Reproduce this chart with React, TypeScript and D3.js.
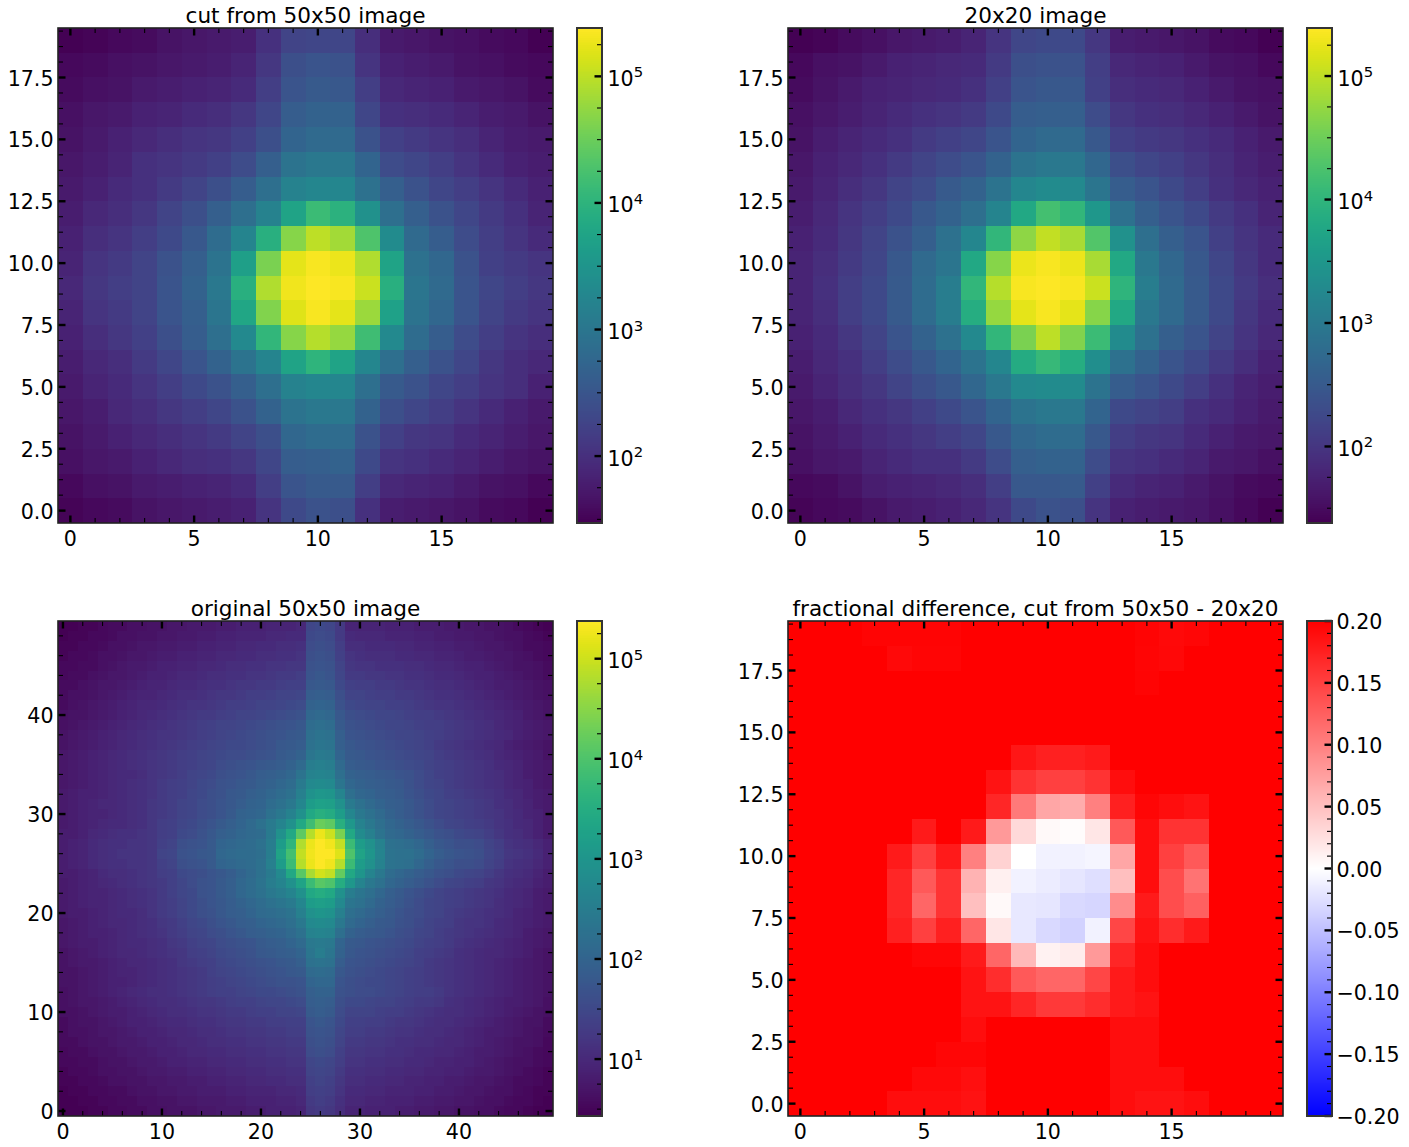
import React from "react";
import * as d3 from "d3";

const W = 1409, H = 1147;
const FONT = "'DejaVu Sans', sans-serif";

// Cell readings, top image row first. Log panels: percent along the colour bar (log scale).
const CUT_ROWS = [
[0,1,2,3,5,6,7,8,14,20,21,21,13,7,6,5,4,3,2,0],
[2,3,4,5,6,7,8,10,16,24,26,25,15,9,8,7,5,4,3,2],
[3,4,5,7,8,9,10,12,18,26,28,27,18,11,10,9,7,6,5,3],
[4,6,7,9,10,12,13,16,21,29,31,31,21,14,13,12,10,8,7,5],
[5,7,9,11,13,15,16,19,24,32,34,34,25,19,17,15,13,10,8,7],
[6,8,10,14,15,17,19,23,30,38,40,40,32,23,21,18,15,12,9,8],
[7,9,12,14,17,20,24,29,36,44,46,46,37,30,25,21,18,15,12,9],
[8,11,13,16,20,24,30,36,44,58,68,64,50,36,30,25,21,17,14,10],
[9,13,15,18,22,27,35,45,63,82,90,86,72,48,34,29,23,18,15,12],
[10,15,17,20,25,30,38,56,80,96,99,97,88,58,37,33,25,19,17,15],
[11,16,18,20,26,31,40,63,88,98,100,99,92,63,39,34,26,21,18,16],
[10,15,17,20,26,30,39,59,81,95,99,96,85,57,38,33,26,20,17,15],
[9,13,16,19,24,29,36,47,66,82,89,84,69,47,35,29,23,18,15,13],
[8,11,13,17,21,26,31,38,45,58,65,58,46,36,30,25,21,16,13,11],
[7,10,12,15,18,22,25,30,36,44,46,46,36,28,25,21,18,15,13,9],
[6,8,11,13,16,18,21,25,31,38,40,40,31,24,21,18,15,12,9,7],
[5,7,9,11,13,15,17,20,24,33,35,35,25,19,16,15,12,10,8,6],
[4,6,7,9,11,13,14,16,21,29,30,31,22,15,14,12,10,8,6,5],
[2,4,5,7,8,9,10,12,18,26,28,28,18,11,10,9,7,5,4,2],
[1,2,3,5,6,7,8,9,15,22,25,24,14,8,7,6,5,3,2,0],
];

const SMALL_ROWS = [
[0,1,3,4,6,7,8,10,15,21,22,22,16,8,7,6,5,3,2,0],
[2,4,5,7,9,10,11,12,17,24,25,25,18,11,10,9,7,5,4,2],
[3,5,7,9,10,11,12,14,19,26,27,27,19,13,12,11,9,7,5,4],
[4,6,8,10,12,14,15,17,22,29,30,30,23,16,14,13,11,9,7,5],
[5,8,10,12,14,17,19,21,26,32,34,34,27,19,17,16,14,12,9,7],
[6,9,11,14,17,20,23,26,31,38,40,40,33,24,21,19,16,13,10,8],
[7,10,13,16,20,23,28,31,38,46,48,47,39,29,26,22,18,14,11,9],
[8,11,15,18,22,27,31,36,45,60,70,66,53,37,30,26,22,17,14,10],
[9,12,16,20,25,30,37,46,66,83,91,87,73,50,36,30,26,19,15,12],
[10,13,17,21,27,34,39,60,82,97,99,97,87,60,40,33,27,21,16,12],
[10,14,18,22,28,35,42,66,89,99,100,99,92,65,42,34,28,22,17,13],
[10,13,18,22,28,35,42,62,84,96,99,96,82,60,40,34,28,22,16,12],
[9,12,16,20,26,31,37,47,66,80,90,81,68,48,37,30,26,20,15,11],
[8,11,14,18,23,27,32,38,46,61,67,62,49,37,31,26,22,17,13,9],
[7,10,13,16,20,24,27,33,40,47,48,48,38,29,26,22,18,14,10,8],
[6,8,11,14,16,19,22,26,32,38,40,40,32,22,20,18,14,12,9,7],
[5,7,9,12,14,16,18,21,27,33,35,35,27,18,16,15,12,9,7,6],
[4,6,7,10,12,14,14,17,23,30,31,31,23,15,14,12,10,7,6,4],
[2,3,5,8,9,10,11,13,18,27,27,28,19,12,10,9,7,5,3,2],
[1,2,3,5,7,8,9,11,15,22,25,24,15,9,8,7,6,4,2,0],
];

const ORIGINAL_ROWS = [
[0,0,1,1,2,3,3,4,4,5,5,6,6,7,7,7,8,8,9,9,9,10,10,10,11,21,22,21,17,10,10,10,10,9,9,9,8,8,8,7,7,6,6,5,5,4,3,2,1,0],
[0,1,1,2,2,3,4,4,5,5,6,6,7,7,8,8,9,9,10,10,10,11,11,12,12,22,23,22,17,12,11,11,11,10,10,10,9,9,8,8,7,7,6,6,5,4,4,3,2,1],
[1,1,2,2,3,4,4,5,6,6,7,7,8,8,9,9,10,10,11,11,12,12,13,13,14,23,24,23,18,13,13,12,12,12,11,11,10,10,9,9,8,8,7,6,6,5,4,3,3,2],
[1,2,2,3,4,4,5,6,6,7,8,8,9,9,10,10,11,11,12,12,13,13,14,14,15,24,25,24,19,15,14,13,13,13,12,12,11,11,10,10,9,8,8,7,6,6,5,4,3,2],
[2,2,3,3,4,5,6,7,7,8,9,9,10,10,11,11,12,13,13,14,14,15,15,16,16,25,26,25,20,16,15,15,14,14,14,13,13,12,11,11,10,9,9,8,7,6,5,5,4,3],
[2,3,3,4,5,6,6,7,8,9,9,10,11,11,12,13,13,14,14,15,15,16,17,17,18,26,27,26,21,17,17,16,16,15,15,14,14,13,12,12,11,10,9,9,8,7,6,5,4,3],
[3,3,4,5,6,6,7,8,9,10,10,11,12,12,13,14,14,15,16,16,17,17,18,19,19,27,28,27,22,19,18,18,17,17,16,15,15,14,13,13,12,11,10,9,8,8,7,6,5,4],
[3,4,4,5,6,7,8,9,10,10,11,12,13,13,14,15,16,16,17,18,18,19,20,20,21,29,30,29,24,20,20,19,18,18,17,17,16,15,14,14,13,12,11,10,9,8,7,6,5,4],
[3,4,5,6,7,8,9,10,11,11,12,13,14,15,15,16,17,18,18,19,20,20,21,22,23,31,32,31,25,22,21,20,20,19,19,18,17,16,15,15,14,13,12,11,10,9,8,7,6,5],
[4,5,5,6,7,8,9,10,11,12,13,14,15,16,17,17,18,19,20,20,21,22,23,24,25,33,34,33,27,24,23,22,21,21,20,19,18,18,17,16,15,14,13,12,11,10,9,7,6,5],
[4,5,6,7,8,9,10,11,12,13,14,15,16,17,18,19,20,20,21,22,23,24,25,26,27,35,36,35,28,25,24,23,22,21,21,20,19,18,18,17,16,15,14,13,11,10,9,8,7,6],
[5,6,7,8,9,10,11,12,13,14,15,15,16,17,18,19,20,21,22,23,24,25,26,27,28,36,38,37,30,26,25,24,23,22,21,21,20,19,18,17,16,15,14,13,12,11,9,8,7,6],
[5,6,7,8,9,10,11,12,13,14,15,16,17,18,19,20,21,22,22,23,24,25,27,28,29,37,39,38,30,27,26,25,24,23,22,21,20,19,17,16,15,14,13,12,11,9,8,7,6,5],
[6,7,8,9,10,11,12,13,14,15,16,17,18,19,20,21,22,23,23,24,25,26,28,29,31,39,41,40,32,28,27,26,25,24,23,22,21,20,18,17,16,15,14,13,11,10,9,8,7,5],
[6,7,8,9,10,11,12,13,14,15,16,17,18,19,20,21,23,24,25,26,27,28,29,31,34,42,43,42,34,29,28,27,26,25,24,23,22,20,19,18,17,16,15,14,12,11,10,8,7,6],
[6,7,8,9,10,11,12,12,13,15,16,17,18,20,21,22,24,25,26,27,29,30,31,33,38,44,45,44,36,31,30,29,28,27,26,25,23,21,19,18,17,16,15,14,13,11,10,8,7,6],
[6,7,8,9,10,11,12,13,14,15,17,18,19,20,22,23,25,26,27,28,30,31,33,35,41,47,48,47,39,33,31,30,29,28,27,25,23,21,20,18,17,16,15,14,13,11,10,9,7,6],
[7,8,9,9,10,11,12,13,14,15,17,18,19,21,22,24,25,27,28,30,31,33,35,37,43,51,53,52,45,36,33,32,30,29,28,26,24,22,21,19,18,17,16,15,14,12,11,9,8,7],
[7,8,9,10,11,11,12,13,14,16,17,18,20,21,23,24,26,27,29,31,32,35,37,40,46,55,57,56,50,41,37,34,32,30,29,27,25,23,21,20,19,18,17,16,14,13,11,10,8,7],
[7,8,9,10,10,11,12,13,14,16,17,18,20,21,23,24,26,28,31,32,33,37,40,44,50,60,63,61,55,46,40,37,34,31,29,27,25,23,21,20,19,18,17,16,15,13,12,10,9,7],
[7,8,9,10,11,12,12,13,14,16,18,19,21,22,24,26,28,30,32,34,37,41,45,50,60,69,77,75,63,53,44,40,36,33,31,29,27,25,23,21,20,19,18,17,15,14,12,11,9,7],
[8,8,9,11,12,13,14,14,15,16,18,19,22,23,25,27,30,31,33,34,35,41,50,60,75,89,97,92,80,60,48,43,38,34,33,31,29,27,25,24,22,21,20,18,16,14,13,11,9,7],
[8,9,10,12,13,14,14,15,15,16,19,20,24,25,26,28,32,33,34,35,37,42,55,65,88,97,100,98,91,68,55,50,44,37,36,35,33,30,27,26,24,24,23,20,18,15,14,13,11,9],
[8,9,10,12,13,14,15,15,15,16,20,21,25,26,27,28,33,34,35,35,36,42,58,70,91,98,100,100,95,72,58,52,45,38,37,37,35,32,29,27,26,25,24,21,19,16,15,14,12,9],
[8,9,10,12,13,14,14,15,15,16,19,20,24,25,26,28,32,33,34,35,37,43,55,68,89,97,100,98,89,68,55,50,44,38,37,36,33,30,27,26,24,24,23,20,18,15,14,13,11,9],
[8,8,9,10,12,13,13,14,15,16,18,19,22,23,24,26,27,29,32,34,37,41,47,60,74,87,93,91,76,60,52,45,40,35,33,31,29,27,25,24,22,21,20,18,16,14,13,12,10,8],
[7,8,9,10,11,12,13,14,15,16,17,19,21,23,25,26,28,30,33,35,38,42,45,50,58,68,74,72,62,53,45,40,37,33,31,29,27,25,23,21,20,19,18,16,15,13,12,11,9,8],
[7,8,9,10,10,11,12,13,14,15,17,19,21,22,25,26,28,30,33,35,37,40,42,45,50,60,62,60,50,42,39,36,33,30,28,26,24,22,20,19,18,17,16,15,14,12,11,10,8,7],
[7,8,9,10,10,11,12,13,14,15,17,18,20,22,24,26,27,29,31,33,35,37,39,41,46,55,56,55,47,39,37,34,31,29,27,25,23,21,20,19,18,17,16,15,13,12,11,10,8,7],
[7,8,8,9,10,11,12,12,13,15,17,18,20,22,24,25,27,29,30,32,34,35,36,38,43,50,52,51,43,36,34,32,30,28,26,24,23,21,20,18,17,16,15,14,13,12,10,9,8,7],
[6,7,8,9,10,11,11,12,13,14,16,17,19,21,22,24,26,27,29,30,32,33,34,36,40,47,48,47,40,34,32,30,28,27,25,24,22,20,19,18,16,15,15,14,12,11,10,9,8,7],
[6,7,8,9,9,10,11,12,13,14,15,17,18,20,21,23,24,26,27,29,30,31,32,34,37,44,45,44,36,31,29,28,27,26,24,23,21,20,18,17,16,15,14,13,12,11,10,8,7,6],
[6,7,8,8,9,10,11,12,12,13,14,16,17,19,20,21,23,24,25,26,28,29,30,32,34,40,41,40,32,28,27,26,25,24,23,22,20,19,18,17,15,14,13,12,11,10,9,8,7,6],
[5,6,7,8,9,10,11,11,12,13,14,15,16,18,19,20,22,23,24,25,27,28,29,30,32,39,42,39,31,27,26,25,24,23,22,21,19,18,17,16,14,13,12,11,11,10,9,8,6,5],
[5,6,7,7,8,9,10,11,11,12,13,14,16,17,18,19,21,22,23,24,25,26,27,28,30,37,38,37,29,26,25,24,23,22,21,20,19,17,16,15,14,13,12,11,10,9,8,7,6,5],
[5,5,6,7,8,9,10,10,11,12,13,14,15,16,17,19,20,21,22,23,24,25,26,27,28,34,35,34,27,25,24,23,22,21,20,19,18,17,16,15,14,13,12,11,10,9,8,7,6,5],
[5,5,6,7,8,9,9,10,11,12,13,14,15,16,17,18,19,20,21,22,23,24,25,25,26,32,33,33,26,24,23,22,22,21,20,19,18,17,16,15,14,13,12,11,10,9,8,7,6,5],
[4,5,6,7,8,9,10,11,12,13,13,14,15,16,17,18,19,19,20,21,22,22,23,24,25,30,31,31,25,24,23,23,22,21,20,19,18,18,17,15,14,13,12,11,10,9,8,7,6,5],
[4,5,6,6,7,8,9,10,11,12,13,13,14,15,16,16,17,18,19,19,20,21,21,22,23,29,30,29,24,22,22,21,20,20,19,18,17,17,16,14,13,12,11,10,9,8,8,7,6,4],
[4,4,5,6,7,8,8,9,10,11,12,13,13,14,15,15,16,17,17,18,19,19,20,20,21,28,29,28,23,20,20,20,19,18,18,17,16,15,14,13,13,12,11,10,9,8,7,6,5,4],
[3,4,5,5,6,7,8,9,9,10,11,12,12,13,14,14,15,16,16,17,17,18,18,19,19,26,27,26,22,19,19,18,18,17,16,16,15,14,13,13,12,11,10,9,8,7,6,5,5,3],
[3,4,4,5,6,6,7,8,9,9,10,11,11,12,13,13,14,15,15,16,16,17,17,18,18,25,26,25,21,18,18,17,17,16,15,15,14,13,13,12,11,10,9,8,8,7,6,5,4,3],
[3,3,4,5,5,6,7,7,8,9,9,10,11,11,12,13,13,14,14,15,15,16,16,17,17,24,25,24,20,17,17,16,16,15,14,14,13,13,12,11,11,10,9,8,7,6,5,5,4,2],
[2,3,3,4,5,5,6,7,7,8,9,9,10,11,11,12,12,13,13,14,14,15,15,16,16,23,24,23,19,16,16,15,15,14,14,13,12,12,11,11,10,9,8,8,7,6,5,4,3,2],
[2,2,3,3,4,5,5,6,7,7,8,9,9,10,10,11,11,12,12,13,13,14,14,15,15,21,22,21,18,15,15,14,14,13,13,12,12,11,10,10,9,9,8,7,6,5,4,4,3,2],
[1,2,2,3,4,4,5,5,6,7,7,8,8,9,9,10,10,11,11,12,12,13,13,14,14,20,21,20,17,14,14,13,13,12,12,11,11,10,10,9,9,8,7,7,6,5,4,3,2,1],
[1,1,2,2,3,4,4,5,5,6,6,7,7,8,8,9,9,10,10,11,11,12,12,13,13,19,20,19,16,13,13,12,12,11,11,10,10,9,9,8,8,7,6,6,5,4,3,3,2,1],
[0,1,1,2,2,3,3,4,5,5,6,6,7,7,8,8,8,9,9,10,10,10,11,11,12,18,19,18,15,12,12,11,11,10,10,10,9,9,8,8,7,6,6,5,4,4,3,2,1,1],
[0,0,1,1,2,2,3,3,4,4,5,5,6,6,7,7,7,8,8,9,9,9,10,10,11,17,18,17,14,11,11,10,10,9,9,9,8,8,7,7,6,6,5,4,4,3,2,2,1,0],
[0,0,0,1,1,2,2,3,3,4,4,5,5,5,6,6,7,7,7,8,8,9,9,9,10,16,17,16,13,10,10,9,9,9,8,8,7,7,6,6,5,5,4,4,3,2,2,1,0,0],
];

// Fractional difference in percent; the colour range saturates at +/-20.
const DIFF_ROWS = [
[20,20,20,19.7,19.7,19.7,19.7,20,20,20,20,20,20,20,19.7,19.3,19.5,20,20,20],
[20,20,20,20,19.3,19.6,19.6,20,20,20,20,20,20,20,19.6,19.4,20,20,20,20],
[20,20,20,20,20,20,20,20,20,20,20,20,20,20,19.7,20,20,20,20,20],
[20,20,20,20,20,20,20,20,20,20,20,20,20,20,20,20,20,20,20,20],
[20,20,20,20,20,20,20,20,20,20,20,20,20,20,20,20,20,20,20,20],
[20,20,20,20,20,20,20,20,20,18.3,17.5,17.5,18,20,20,20,20,20,20,20],
[20,20,20,20,20,20,20,20,18.5,16,15,15,16,19,20,20,20,20,20,20],
[20,20,20,20,20,20,20,20,17,10.5,7,6.5,10,17.5,19.5,19,18.5,20,20,20],
[20,20,20,20,20,18,20,18,8,3,0.5,0.2,2,13,19,16,16,20,20,20],
[20,20,20,20,18,15,18,10,3.5,0,-1,-1,-0.8,7,19,15,13,20,20,20],
[20,20,20,20,17,13,16,6,1.2,-1,-1.5,-2,-2.5,5,19,14,11,20,20,20],
[20,20,20,20,17,12,16,5,0.5,-1.8,-2,-3,-3.2,9,18,14,12.5,20,20,20],
[20,20,20,20,17.5,15,17.5,12,2,-1.8,-3,-3.5,-1,14.5,18.5,16.5,18,20,20,20],
[20,20,20,20,20,19.5,19.5,18,12,5.5,1,1.5,8,17,19,20,20,20,20,20],
[20,20,20,20,20,20,20,18.5,16.5,13,12,12,14.5,18,19,20,20,20,20,20],
[20,20,20,20,20,20,20,18.5,18.5,17,15.5,15.5,16.5,18,18.5,20,20,20,20,20],
[20,20,20,20,20,20,20,19,20,20,20,20,20,19,19,20,20,20,20,20],
[20,20,20,20,20,20,19.5,19.5,20,20,20,20,20,19,19,20,20,20,20,20],
[20,20,20,20,20,19.3,19.3,18.8,20,20,20,20,20,19,19,19,20,20,20,20],
[20,20,20,20,19,19,19,18.6,20,20,20,20,20,19,18.5,18.5,19,20,20,20],
];

const TITLES = ["cut from 50x50 image", "20x20 image", "original 50x50 image", "fractional difference, cut from 50x50 - 20x20"];
const CUT_RANGE: [number, number] = [29.6, 241000];
const SMALL_RANGE: [number, number] = [24, 245000];
const ORIGINAL_RANGE: [number, number] = [2.7, 238000];
const DIFF_RANGE: [number, number] = [-0.2, 0.2];
const CUT_Y_TICKS = [0, 2.5, 5, 7.5, 10, 12.5, 15, 17.5];
const CUT_X_TICKS = [0, 5, 10, 15];
const ORIGINAL_TICKS = [0, 10, 20, 30, 40];
const DIFF_BAR_TICKS = [-0.2, -0.15, -0.1, -0.05, 0, 0.05, 0.1, 0.15, 0.2];

const AX = 495, BAR_GAP = 24, BAR_W = 25;
const LEFT = [58, 788], TOP = [28, 621];
const TICK_FS = 20.6, TITLE_FS = 21.6;
const MAJOR_LEN = 7.5, MINOR_LEN = 5, MAJOR_W = 2.4, MINOR_W = 1.1;
const INK = "#000";

type Tick = { v: number; major: boolean };

function ticksFrom(lo: number, hi: number, majors: number[], minorStep: number): Tick[] {
  const out: Tick[] = majors.map((v) => ({ v, major: true }));
  const start = Math.ceil(lo / minorStep - 1e-9);
  for (let k = start; k * minorStep <= hi + 1e-9; k++) {
    const v = k * minorStep;
    if (!majors.some((m) => Math.abs(m - v) < 1e-9)) out.push({ v, major: false });
  }
  return out;
}

function HeatAxes({ x0, y0, rows, colour, title, xMajors, yMajors, xMinor, yMinor }: any) {
  const n = rows.length;
  const x = d3.scaleLinear().domain([-0.5, n - 0.5]).range([x0, x0 + AX]);
  const y = d3.scaleLinear().domain([-0.5, n - 0.5]).range([y0 + AX, y0]);
  const xt = ticksFrom(-0.5, n - 0.5, xMajors, xMinor);
  const yt = ticksFrom(-0.5, n - 0.5, yMajors, yMinor);
  return (
    <g>
      <g shapeRendering="crispEdges">
        {rows.flatMap((row: number[], i: number) =>
          row.map((v, j) => {
            const yy = n - 1 - i;
            const px = Math.round(x(j - 0.5));
            const py = Math.round(y(yy + 0.5));
            return (
              <rect key={`${i}-${j}`} x={px} y={py}
                width={Math.round(x(j + 0.5)) - px} height={Math.round(y(yy - 0.5)) - py}
                fill={colour(v)} />
            );
          })
        )}
      </g>
      {xt.map((t) => {
        const len = t.major ? MAJOR_LEN : MINOR_LEN;
        const w = t.major ? MAJOR_W : MINOR_W;
        const p = x(t.v);
        return (
          <g key={`x${t.v}`} stroke={INK} strokeWidth={w}>
            <line x1={p} x2={p} y1={y0 + AX} y2={y0 + AX - len} />
            <line x1={p} x2={p} y1={y0} y2={y0 + len} />
          </g>
        );
      })}
      {yt.map((t) => {
        const len = t.major ? MAJOR_LEN : MINOR_LEN;
        const w = t.major ? MAJOR_W : MINOR_W;
        const p = y(t.v);
        return (
          <g key={`y${t.v}`} stroke={INK} strokeWidth={w}>
            <line x1={x0} x2={x0 + len} y1={p} y2={p} />
            <line x1={x0 + AX} x2={x0 + AX - len} y1={p} y2={p} />
          </g>
        );
      })}
      <rect x={x0} y={y0} width={AX} height={AX} fill="none" stroke="#222" strokeWidth={1.6} />
      {xMajors.map((v: number) => (
        <text key={v} x={x(v)} y={y0 + AX + 23} textAnchor="middle" fontSize={TICK_FS} fill={INK}>{v}</text>
      ))}
      {yMajors.map((v: number) => (
        <text key={v} x={x0 - 4.5} y={y(v) + 8} textAnchor="end" fontSize={TICK_FS} fill={INK}>
          {n === 20 ? v.toFixed(1) : v}
        </text>
      ))}
      <text x={x0 + AX / 2} y={y0 - 5} textAnchor="middle" fontSize={TITLE_FS} fill={INK}>{title}</text>
    </g>
  );
}

function BarFrame({ x0, y0, children, slices }: any) {
  return (
    <g>
      <g shapeRendering="crispEdges">{slices}</g>
      {children}
      <rect x={x0} y={y0} width={BAR_W} height={AX} fill="none" stroke="#333" strokeWidth={2} />
    </g>
  );
}

function LogBar({ x0, y0, range }: any) {
  const s = d3.scaleLog().domain(range).range([y0 + AX, y0]);
  const colour = d3.scaleSequentialLog(d3.interpolateViridis).domain(range);
  const slices = d3.range(y0, y0 + AX).map((py) => (
    <rect key={py} x={x0} y={py} width={BAR_W} height={1} fill={colour(s.invert(py + 0.5)) as string} />
  ));
  const loQ = Math.ceil(Math.log10(range[0]) * 4);
  const hiQ = Math.floor(Math.log10(range[1]) * 4);
  const quarters = d3.range(loQ, hiQ + 1);
  return (
    <BarFrame x0={x0} y0={y0} slices={slices}>
      {quarters.map((q) => {
        const major = q % 4 === 0;
        const p = s(Math.pow(10, q / 4));
        return (
          <g key={q}>
            <line x1={x0 + BAR_W} x2={x0 + BAR_W - (major ? MAJOR_LEN : MINOR_LEN)} y1={p} y2={p}
              stroke={INK} strokeWidth={major ? MAJOR_W : MINOR_W} />
            {major && (
              <text x={x0 + BAR_W + 5.5} y={p + 9.5} fontSize={TICK_FS} fill={INK}>
                10<tspan fontSize={TICK_FS * 0.72} dy={-8.5}>{q / 4}</tspan>
              </text>
            )}
          </g>
        );
      })}
    </BarFrame>
  );
}

function LinearBar({ x0, y0, range, colour }: any) {
  const s = d3.scaleLinear().domain(range).range([y0 + AX, y0]);
  const slices = d3.range(y0, y0 + AX).map((py) => (
    <rect key={py} x={x0} y={py} width={BAR_W} height={1} fill={colour(s.invert(py + 0.5) * 100)} />
  ));
  const ticks = ticksFrom(range[0], range[1], DIFF_BAR_TICKS, 0.01);
  return (
    <BarFrame x0={x0} y0={y0} slices={slices}>
      {ticks.map((t) => {
        const p = s(t.v);
        return (
          <line key={t.v} x1={x0 + BAR_W} x2={x0 + BAR_W - (t.major ? MAJOR_LEN : MINOR_LEN)} y1={p} y2={p}
            stroke={INK} strokeWidth={t.major ? MAJOR_W : MINOR_W} />
        );
      })}
      {DIFF_BAR_TICKS.map((v) => (
        <text key={v} x={x0 + BAR_W + 4.5} y={s(v) + 8} fontSize={TICK_FS} fill={INK}>
          {(v < 0 ? "\u2212" : "") + Math.abs(v).toFixed(2)}
        </text>
      ))}
    </BarFrame>
  );
}

function logColour(range: [number, number]) {
  const seq = d3.scaleSequentialLog(d3.interpolateViridis).domain(range);
  const pos = d3.scaleLog().domain(range).range([0, 100]);
  return (percent: number) => seq(pos.invert(percent)) as string;
}

export default function App() {
  const diffColour = d3.scaleLinear<string>().domain([-20, 0, 20]).range(["#0000ff", "#ffffff", "#ff0000"]).clamp(true);
  return (
    <svg width={W} height={H} viewBox={`0 0 ${W} ${H}`} fontFamily={FONT}
      style={{ position: "absolute", left: 0, top: 0, display: "block", background: "#fff" }}>
      <HeatAxes x0={LEFT[0]} y0={TOP[0]} rows={CUT_ROWS} colour={logColour(CUT_RANGE)} title={TITLES[0]}
        xMajors={CUT_X_TICKS} yMajors={CUT_Y_TICKS} xMinor={1} yMinor={0.625} />
      <LogBar x0={LEFT[0] + AX + BAR_GAP} y0={TOP[0]} range={CUT_RANGE} />

      <HeatAxes x0={LEFT[1]} y0={TOP[0]} rows={SMALL_ROWS} colour={logColour(SMALL_RANGE)} title={TITLES[1]}
        xMajors={CUT_X_TICKS} yMajors={CUT_Y_TICKS} xMinor={1} yMinor={0.625} />
      <LogBar x0={LEFT[1] + AX + BAR_GAP} y0={TOP[0]} range={SMALL_RANGE} />

      <HeatAxes x0={LEFT[0]} y0={TOP[1]} rows={ORIGINAL_ROWS} colour={logColour(ORIGINAL_RANGE)} title={TITLES[2]}
        xMajors={ORIGINAL_TICKS} yMajors={ORIGINAL_TICKS} xMinor={2} yMinor={2} />
      <LogBar x0={LEFT[0] + AX + BAR_GAP} y0={TOP[1]} range={ORIGINAL_RANGE} />

      <HeatAxes x0={LEFT[1]} y0={TOP[1]} rows={DIFF_ROWS} colour={diffColour} title={TITLES[3]}
        xMajors={CUT_X_TICKS} yMajors={CUT_Y_TICKS} xMinor={1} yMinor={0.625} />
      <LinearBar x0={LEFT[1] + AX + BAR_GAP} y0={TOP[1]} range={DIFF_RANGE} colour={diffColour} />
    </svg>
  );
}
